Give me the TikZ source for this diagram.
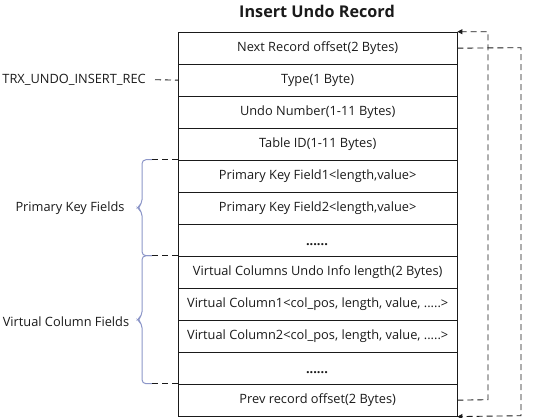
\documentclass[tikz,border=0pt]{standalone}
\usepackage{fontspec}
\setmainfont{Open Sans}
\usetikzlibrary{arrows.meta}
\definecolor{ink}{HTML}{1A1A1A}
\definecolor{bracecol}{RGB}{140,150,200}
\tikzset{
  rowbox/.style={draw=ink, line width=0.9pt, minimum width=278.5pt, minimum height=32pt, anchor=north west, inner sep=0pt, font=\fontsize{12.8}{15}\selectfont, text=ink},
  lab/.style={font=\fontsize{12.8}{15}\selectfont, text=ink, inner sep=0pt},
  dline/.style={draw=ink, line width=0.9pt, dash pattern=on 6pt off 4pt},
  brc/.style={draw=bracecol, line width=1pt, rounded corners=4pt},
  tip/.style={-{Triangle[length=5pt,width=5pt]}}
}
\begin{document}
\begin{tikzpicture}[x=1pt,y=-1pt]
\useasboundingbox (0,0) rectangle (544,418);
\node[font=\bfseries\fontsize{16.2}{18}\selectfont, text=ink] (title) at (317,11) {Insert Undo Record};
\node[rowbox] (r1) at (178,31.7) {Next Record offset(2 Bytes)};
\node[rowbox] (r2) at (178,63.7) {Type(1 Byte)};
\node[rowbox] (r3) at (178,95.7) {Undo Number(1-11 Bytes)};
\node[rowbox] (r4) at (178,127.7) {Table ID(1-11 Bytes)};
\node[rowbox] (r5) at (178,159.7) {Primary Key Field1<length,value>};
\node[rowbox] (r6) at (178,191.7) {Primary Key Field2<length,value>};
\node[rowbox] (r7) at (178,223.7) {};
\node[lab] (d1) at (317,245) {\bfseries......};
\node[rowbox] (r8) at (178,255.7) {Virtual Columns Undo Info length(2 Bytes)};
\node[rowbox] (r9) at (178,287.7) {Virtual Column1<col\_pos, length, value, .....>};
\node[rowbox] (r10) at (178,319.7) {Virtual Column2<col\_pos, length, value, .....>};
\node[rowbox] (r11) at (178,351.7) {};
\node[lab] (d2) at (317,373) {\bfseries......};
\node[rowbox] (r12) at (178,383.7) {Prev record offset(2 Bytes)};
% left labels
\node[lab, anchor=east] (trx) at (146,79.7) {TRX\_UNDO\_INSERT\_REC};
\draw[dline] (trx.east) ++(9,0) coordinate (t0) -- (r2.west);
\node[lab] (pk) at (70,207.7) {Primary Key Fields};
\node[lab] (vc) at (66,321.7) {Virtual Column Fields};
% braces
\coordinate (b1) at (152,159.7);
\coordinate (b2) at (152,255.7);
\coordinate (b3) at (152,383.7);
\draw[brc] (b1) -- (142,159.7) -- (142,203.7) -- (137,207.7) -- (142,211.7) -- (142,255.7) -- (b2);
\draw[brc] (b2) -- (142,255.7) -- (142,315.7) -- (137,319.7) -- (142,323.7) -- (142,383.7) -- (b3);
\draw[dline] (b1) -- (r5.north west);
\draw[dline] (b2) -- (r8.north west);
\draw[dline] (b3) -- (r12.north west);
% right loops
\draw[dline, tip] (r12.east) -- (488,399.7) -- (488,31.7) -- (r1.north east);
\draw[dline, tip] (r1.east) -- (521,47.7) -- (521,415.7) -- (r12.south east);
\end{tikzpicture}
\end{document}
